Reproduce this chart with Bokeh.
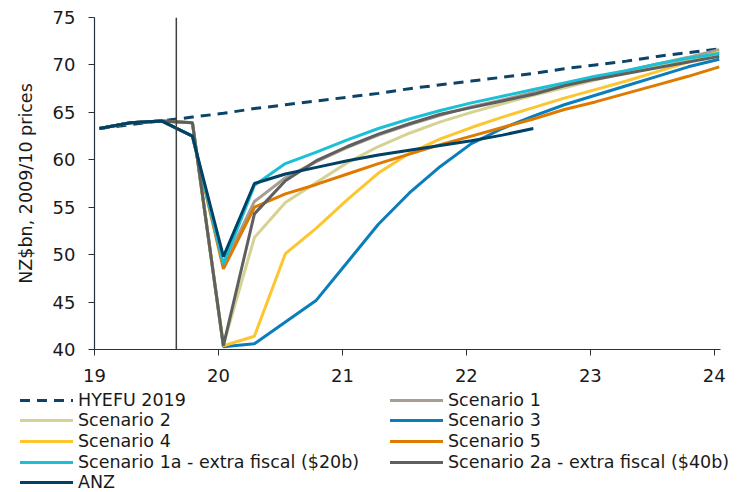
from bokeh.plotting import figure
from bokeh.layouts import column
from bokeh.models import Span, FixedTicker, Div
from bokeh.embed import file_html
from bokeh.resources import INLINE

# Quarterly observations (x in years, 19 = 2019)
quarters = [19.04, 19.29, 19.54, 19.79, 20.04, 20.29, 20.54, 20.79, 21.04, 21.29, 21.54,
            21.79, 22.04, 22.29, 22.54, 22.79, 23.04, 23.29, 23.54, 23.79, 24.04]

hyefu_2019 = [63.3, 63.7, 64.1, 64.5, 64.9, 65.4, 65.8, 66.2, 66.6, 67.0, 67.5,
              67.9, 68.3, 68.7, 69.1, 69.6, 70.0, 70.4, 70.9, 71.3, 71.7]
scenario_1 = [63.3, 63.9, 64.1, 62.5, 48.8, 55.6, 58.1, 59.8, 61.3, 62.6, 63.7,
              64.7, 65.6, 66.3, 67.1, 67.8, 68.6, 69.4, 70.1, 70.8, 71.6]
scenario_2 = [63.3, 63.9, 64.1, 63.9, 40.5, 51.8, 55.5, 57.6, 59.7, 61.4, 62.8,
              64.0, 65.0, 65.9, 66.8, 67.6, 68.4, 69.2, 69.9, 70.6, 71.3]
scenario_3 = [63.3, 63.9, 64.1, 63.9, 40.3, 40.6, 42.9, 45.2, 49.2, 53.2, 56.5,
              59.3, 61.7, 63.3, 64.6, 65.8, 66.8, 67.8, 68.8, 69.8, 70.6]
scenario_4 = [63.3, 63.9, 64.1, 63.9, 40.4, 41.4, 50.1, 52.8, 55.8, 58.6, 60.7,
              62.2, 63.4, 64.5, 65.5, 66.5, 67.4, 68.3, 69.3, 70.3, 71.4]
scenario_5 = [63.3, 63.9, 64.1, 62.5, 48.5, 55.0, 56.4, 57.4, 58.5, 59.6, 60.6,
              61.6, 62.5, 63.4, 64.3, 65.3, 66.1, 67.0, 67.9, 68.8, 69.8]
scenario_1a = [63.3, 63.9, 64.1, 62.5, 49.0, 57.3, 59.6, 60.8, 62.1, 63.3, 64.3,
               65.2, 66.0, 66.7, 67.4, 68.1, 68.8, 69.4, 70.1, 70.7, 71.2]
scenario_2a = [63.3, 63.9, 64.1, 63.9, 40.4, 54.3, 57.8, 59.9, 61.4, 62.7, 63.8,
               64.8, 65.5, 66.2, 66.9, 67.8, 68.5, 69.1, 69.7, 70.3, 70.9]
anz = [63.3, 63.9, 64.1, 62.5, 49.8, 57.5, 58.5, 59.2, 59.9, 60.5, 61.0,
       61.5, 62.0, 62.6, 63.3]

x_ticks = [19, 20, 21, 22, 23, 24]
y_ticks = [40, 45, 50, 55, 60, 65, 70, 75]
forecast_start = 19.66

series_names = ["HYEFU 2019", "Scenario 1", "Scenario 2", "Scenario 3", "Scenario 4",
                "Scenario 5", "Scenario 1a - extra fiscal ($20b)",
                "Scenario 2a - extra fiscal ($40b)", "ANZ"]
series_values = [hyefu_2019, scenario_1, scenario_2, scenario_3, scenario_4,
                 scenario_5, scenario_1a, scenario_2a, anz]
series_colors = ["#0b4468", "#a69d93", "#d6d293", "#0a7dbb", "#fdc52f",
                 "#df7a00", "#1cc0d6", "#5f5f5f", "#004165"]
series_dash = ["10 7", "solid", "solid", "solid", "solid", "solid", "solid", "solid", "solid"]

# legend arrangement (two columns, as in the source chart)
legend_col1 = ["HYEFU 2019", "Scenario 2", "Scenario 4",
               "Scenario 1a - extra fiscal ($20b)", "ANZ"]
legend_col2 = ["Scenario 1", "Scenario 3", "Scenario 5",
               "Scenario 2a - extra fiscal ($40b)"]

FONT = "DejaVu Sans"
AX = "#26323b"
TXT = "#1a1a1a"
W = 3

p = figure(width=738, height=390, x_range=(19, 24.05), y_range=(40, 75),
           output_backend="svg", toolbar_location=None,
           min_border_left=94, min_border_right=18, min_border_top=17,
           min_border_bottom=41)

p.xgrid.visible = False
p.ygrid.visible = False
p.outline_line_color = None
p.background_fill_color = "white"
p.border_fill_color = "white"

for ax in (p.xaxis[0], p.yaxis[0]):
    ax.axis_line_color = AX
    ax.axis_line_width = 1.2
    ax.major_tick_line_color = AX
    ax.major_tick_out = 6
    ax.major_tick_in = 0
    ax.minor_tick_line_color = None
    ax.major_label_text_font = FONT
    ax.major_label_text_font_size = "18px"
    ax.major_label_text_color = TXT

p.xaxis.ticker = FixedTicker(ticks=x_ticks)
p.yaxis.ticker = FixedTicker(ticks=y_ticks)
p.xaxis.major_label_standoff = 13
p.yaxis.major_label_standoff = 13
p.yaxis.axis_label = "NZ$bn, 2009/10 prices"
p.yaxis.axis_label_text_font = FONT
p.yaxis.axis_label_text_font_size = "17.5px"
p.yaxis.axis_label_text_font_style = "normal"
p.yaxis.axis_label_text_color = TXT
p.yaxis.axis_label_standoff = 14

p.add_layout(Span(location=forecast_start, dimension="height",
                  line_color="#404040", line_width=1.5))

for name, vals, col, dash in zip(series_names, series_values, series_colors, series_dash):
    p.line(quarters[:len(vals)], vals, line_color=col, line_width=W, line_dash=dash)

# Legend strip below the chart, built as HTML text
style_of = {n: (c, d) for n, c, d in zip(series_names, series_colors, series_dash)}

def key_html(name, left, top):
    col, dash = style_of[name]
    if dash == "solid":
        bg = col
    else:
        a, b = dash.split()
        bg = ("repeating-linear-gradient(to right, %s 0px, %s %spx, transparent %spx, "
              "transparent %dpx)" % (col, col, a, a, int(a) + int(b)))
    return ('<div style="position:absolute;left:%dpx;top:%dpx;height:20px;display:flex;'
            'align-items:center;white-space:nowrap;">'
            '<span style="display:inline-block;width:53px;height:3px;background:%s;'
            'margin-right:5px;"></span><span>%s</span></div>' % (left, top, bg, name))

parts = []
for names, left in ((legend_col1, 20), (legend_col2, 390)):
    for i, n in enumerate(names):
        parts.append(key_html(n, left, round(20.5 * i)))

html = ('<div style="position:relative;width:738px;height:102px;font-family:\'DejaVu Sans\';'
        'font-size:17.5px;line-height:20px;color:%s;">%s</div>' % (TXT, "".join(parts)))
legend_div = Div(text=html, width=738, height=102, disable_math=True,
                 styles={"margin": "0", "padding": "0"})

layout = column(p, legend_div, spacing=0)
open("out.html", "w").write(file_html(layout, INLINE))
